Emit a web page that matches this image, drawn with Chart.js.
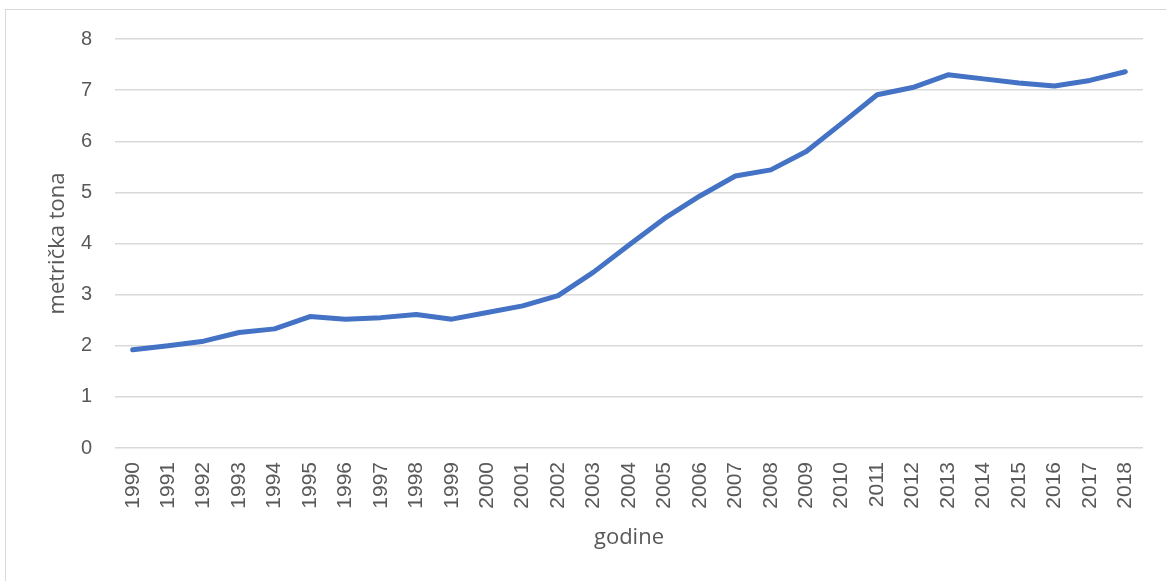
<!DOCTYPE html>
<html>
<head>
<meta charset="utf-8">
<script src="https://cdn.jsdelivr.net/npm/chart.js@4/dist/chart.umd.min.js"></script>
<style>
  html, body { margin: 0; padding: 0; background: #fff; overflow: hidden; }
  #okvir { position: absolute; left: 5px; top: 9px; width: 1200px; height: 620px; border: 1.5px solid #d9d9d9; }
  #wrap { position: absolute; left: 0; top: 0; width: 1166px; height: 581px; }
</style>
</head>
<body>
<div id="okvir"></div>
<div id="wrap"><canvas id="graf"></canvas></div>
<script>
const godine = ["1990","1991","1992","1993","1994","1995","1996","1997","1998","1999",
    "2000","2001","2002","2003","2004","2005","2006","2007","2008","2009",
    "2010","2011","2012","2013","2014","2015","2016","2017","2018"];
const vrijednosti = [1.92, 2.00, 2.09, 2.26, 2.33, 2.57, 2.52, 2.55, 2.61, 2.52,
    2.65, 2.78, 2.98, 3.44, 3.97, 4.49, 4.93, 5.32, 5.44, 5.80,
    6.35, 6.91, 7.05, 7.30, 7.22, 7.14, 7.08, 7.19, 7.36];
const yMin = 0;
const yMax = 8;

const siva = "#595959";

document.addEventListener("DOMContentLoaded", () => {
    const ctx = document.getElementById("graf").getContext("2d");
    new Chart(ctx, {
        type: "line",
        data: {
            labels: godine,
            datasets: [{
                data: vrijednosti,
                borderColor: "#4472C4",
                borderWidth: 5,
                borderCapStyle: "round",
                borderJoinStyle: "round",
                pointRadius: 0,
                tension: 0,
                fill: false
            }]
        },
        options: {
            responsive: true,
            maintainAspectRatio: false,
            animation: false,
            layout: { padding: { top: 39, right: 23, left: 0, bottom: 0 } },
            plugins: {
                legend: { display: false },
                tooltip: { enabled: false }
            },
            scales: {
                x: {
                    offset: true,
                    grid: { display: false, drawTicks: false },
                    border: { display: false },
                    ticks: {
                        color: siva,
                        font: { family: "Liberation Sans", size: 21 },
                        minRotation: 90,
                        maxRotation: 90,
                        autoSkip: false,
                        padding: 14
                    },
                    title: {
                        display: true,
                        text: "godine",
                        color: siva,
                        font: { family: "Open Sans", size: 22 },
                        padding: { top: 0, bottom: 30 }
                    },
                    afterFit: s => { s.height = 133; }
                },
                y: {
                    min: yMin,
                    max: yMax,
                    grid: { color: "#d9d9d9", lineWidth: 1.5, drawTicks: false },
                    border: { display: false },
                    ticks: {
                        stepSize: 1,
                        color: siva,
                        font: { family: "Liberation Sans", size: 20 },
                        padding: 23
                    },
                    title: {
                        display: true,
                        text: "metrička tona",
                        color: siva,
                        font: { family: "Open Sans", size: 22 },
                        padding: { top: 45, bottom: 0 }
                    },
                    afterFit: s => { s.width = 115; }
                }
            }
        }
    });
});
</script>
</body>
</html>
